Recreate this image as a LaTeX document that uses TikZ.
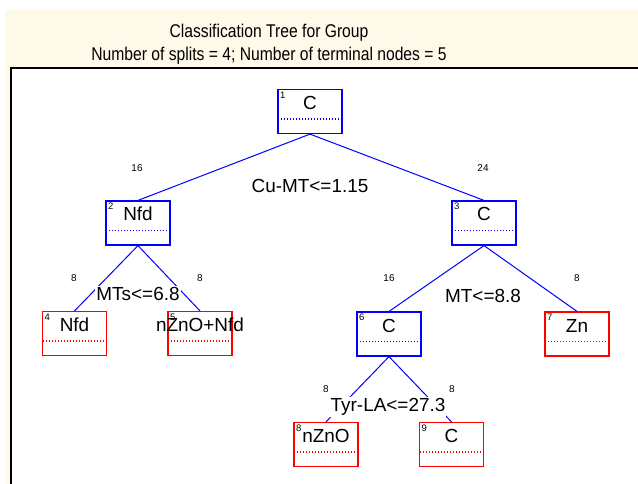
\documentclass[tikz,border=0pt]{standalone}
\usepackage{fontspec}
\setmainfont{Liberation Sans}
\newfontfamily\titlefont[FakeStretch=0.85]{Liberation Sans}
\usetikzlibrary{arrows.meta}
\definecolor{paper}{RGB}{255,249,234}

\tikzset{
	treebox/.style={rectangle, draw, line width=1.2bp, minimum width=64bp, minimum height=44bp,
		inner sep=0pt, text height=14bp, text depth=18bp, font=\fontsize{19}{19}\selectfont},
	splitbox/.style={treebox, draw=blue, path picture={\draw[blue, dash pattern=on 1bp off 2bp]
		([yshift=-7.5bp]path picture bounding box.west) -- ([yshift=-7.5bp]path picture bounding box.east);}},
	leafbox/.style={treebox, draw=red, path picture={\draw[red, dash pattern=on 1bp off 2bp]
		([yshift=-7.5bp]path picture bounding box.west) -- ([yshift=-7.5bp]path picture bounding box.east);}},
	every label/.style={font=\fontsize{9.5}{10}\selectfont, inner sep=2.5bp, anchor=north west},
}

\begin{document}
\begin{tikzpicture}[x=1bp, y=-1bp]
	\useasboundingbox (0,0) rectangle (638,484);
	\fill[paper] (5,10) rectangle (638,484);
	\fill[white] (11,68) rectangle (638,484);
	\draw[line width=1.5bp] (638,68) -- (11,68) -- (11,484);

	% title
	\node[anchor=base, font=\titlefont\fontsize{18.5}{18}\selectfont] (title) at (269,37.5) {Classification Tree for Group};
	\node[anchor=base, font=\titlefont\fontsize{18.5}{18}\selectfont] (subtitle) at (269,60.5) {Number of splits = 4; Number of terminal nodes = 5};

	\begin{scope}
		\node[splitbox, label={[anchor=north west]north west:1}] (C root) at (310,111.5) {C};
			\node[splitbox, label={[anchor=north west]north west:2}] (Nfd split) at (138,223) {Nfd};
				\node[leafbox, label={[anchor=north west]north west:4}] (Nfd leaf) at (74.5,333.5) {Nfd};
				\node[leafbox, label={[anchor=north west]north west:5}] (nZnO+Nfd leaf) at (200,333.5) {\makebox[0pt]{nZnO+Nfd}};
			\node[splitbox, label={[anchor=north west]north west:3}] (C split) at (484,223) {C};
				\node[splitbox, label={[anchor=north west]north west:6}] (C inner) at (389,334) {C};
					\node[leafbox, label={[anchor=north west]north west:8}] (nZnO leaf) at (326,444.5) {nZnO};
					\node[leafbox, label={[anchor=north west]north west:9}] (C leaf) at (451.5,444.5) {C};
				\node[leafbox, label={[anchor=north west]north west:7}] (Zn leaf) at (577,334) {Zn};
	\end{scope}

	\begin{scope}[every edge/.style={draw=blue, line width=1bp}]
	\path (C root.south) edge (Nfd split.north);
	\path (C root.south) edge (C split.north);

	\path (Nfd split.south) edge (Nfd leaf.north);
	\path (Nfd split.south) edge (nZnO+Nfd leaf.north);

	\path (C split.south) edge (C inner.north);
	\path (C split.south) edge (Zn leaf.north);

	\path (C inner.south) edge (nZnO leaf.north);
	\path (C inner.south) edge (C leaf.north);
	\end{scope}

	\begin{scope}[every node/.style={fill=white, inner sep=1bp, font=\fontsize{19}{19}\selectfont}]
		\node (Cu-MT rule) at (310,186) {Cu-MT<=1.15};
		\node (MTs rule) at (138,294) {MTs<=6.8};
		\node (MT rule) at (483,296) {MT<=8.8};
		\node (Tyr-LA rule) at (388,407) {Tyr-LA<=27.3};
	\end{scope}

	\begin{scope}[every node/.style={font=\fontsize{10}{10}\selectfont}]
		\node (Nfd split n) at (137,168) {16};
		\node (C split n) at (483,168) {24};
		\node (Nfd leaf n) at (74,278) {8};
		\node (nZnO+Nfd leaf n) at (200,278) {8};
		\node (C inner n) at (389,278) {16};
		\node (Zn leaf n) at (577,278) {8};
		\node (nZnO leaf n) at (326,389) {8};
		\node (C leaf n) at (452,389) {8};
	\end{scope}
\end{tikzpicture}
\end{document}
